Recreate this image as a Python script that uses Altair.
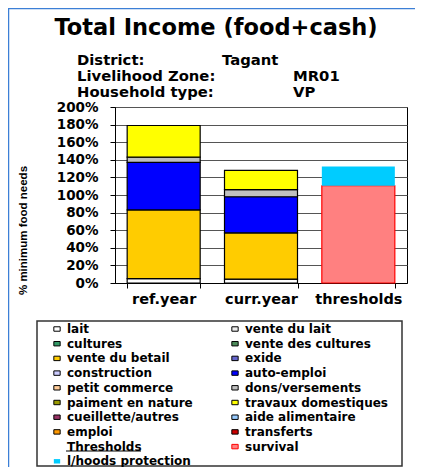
import altair as alt
import pandas as pd

# ---------------- data ----------------
categories = ["ref.year", "curr.year", "thresholds"]
income_sources = ["lait", "vente du betail", "auto-emploi", "dons/versements", "travaux domestiques"]
ref_year = [5, 78, 54, 6, 36]
curr_year = [4.5, 52.5, 41, 8, 22]
threshold_names = ["survival", "l/hoods protection"]
threshold_values = [110.5, 22]

# legend entries (listed column by column: left column, then right column)
legend_items = [
    "lait", "cultures", "vente du betail", "construction", "petit commerce",
    "paiment en nature", "cueillette/autres", "emploi", "Thresholds", "l/hoods protection",
    "vente du lait", "vente des cultures", "exide", "auto-emploi", "dons/versements",
    "travaux domestiques", "aide alimentaire", "transferts", "survival",
]
legend_fills = [
    "#FFFFFF", "#339966", "#FFCC00", "#CCCCFF", "#FFCC99",
    "#999900", "#993366", "#FF9900", "transparent", "#00CCFF",
    "#EEEEEE", "#4D8C5A", "#6666CC", "#0000FF", "#C0C0C0",
    "#FFFF00", "#99CCFF", "#CC0000", "#FF8080",
]
legend_strokes = (["#000000"] * 8 + ["transparent", "transparent"]
                  + ["#000000"] * 8 + ["#FF0000"])

title_text = "Total Income (food+cash)"
header_labels = ["District:", "Livelihood Zone:", "Household type:"]
header_values = ["Tagant", "MR01", "VP"]
y_title = "% minimum food needs"

rows = []
for i, (s, v) in enumerate(zip(income_sources, ref_year)):
    rows.append({"cat": categories[0], "source": s, "value": v, "ord": i})
for i, (s, v) in enumerate(zip(income_sources, curr_year)):
    rows.append({"cat": categories[1], "source": s, "value": v, "ord": i})
for i, (s, v) in enumerate(zip(threshold_names, threshold_values)):
    rows.append({"cat": categories[2], "source": s, "value": v, "ord": i})
df = pd.DataFrame(rows)
one = pd.DataFrame({"a": [0]})

BOLD = "DejaVu Sans"

legend_kw = dict(title=None, orient="none", legendX=-64, legendY=216,
                 columns=2, columnPadding=36, rowPadding=2.7,
                 symbolType="M-1,-0.7H1V0.7H-1Z", symbolSize=40,
                 symbolStrokeWidth=1, labelFont=BOLD,
                 labelFontWeight="bold", labelFontSize=12,
                 labelColor="black", labelOffset=4, padding=0,
                 labelLimit=0)

bars = alt.Chart(df).mark_bar(strokeWidth=1.2).encode(
    x=alt.X("cat:N", sort=categories,
            scale=alt.Scale(paddingInner=0.25, paddingOuter=0.125),
            axis=alt.Axis(title=None, labelAngle=0, tickBand="extent", grid=False,
                          labelFont=BOLD, labelFontWeight="bold", labelFontSize=14.5,
                          labelColor="black", tickColor="black", domainColor="black",
                          tickSize=5, labelPadding=4)),
    y=alt.Y("value:Q", stack="zero",
            scale=alt.Scale(domain=[0, 200], nice=False),
            axis=alt.Axis(values=list(range(0, 201, 20)), labelExpr="datum.value + '%'",
                          grid=True, gridColor="#555555", gridWidth=1,
                          labelFont=BOLD, labelFontWeight="bold", labelFontSize=13.5,
                          labelColor="black", tickColor="black", domainColor="black",
                          tickSize=5, labelPadding=12,
                          title=y_title, titleFont="Liberation Sans", titleFontWeight="bold",
                          titleFontSize=11.5, titleColor="black",
                          titleX=-92, titleY=123, titleAngle=270,
                          titleAlign="center", titleBaseline="middle")),
    color=alt.Color("source:N", scale=alt.Scale(domain=legend_items, range=legend_fills),
                    legend=alt.Legend(**legend_kw)),
    stroke=alt.Stroke("source:N", scale=alt.Scale(domain=legend_items, range=legend_strokes),
                      legend=alt.Legend(**legend_kw)),
    order=alt.Order("ord:Q"),
)

layers = [bars]

# title
layers.append(alt.Chart(one).mark_text(font=BOLD, fontWeight="bold", fontSize=22.5,
                                       align="center", baseline="alphabetic", color="black")
              .encode(x=alt.value(101), y=alt.value(-72), text=alt.value(title_text)))
# header lines
label_y = [-42, -26, -10.5]
value_x = [107, 178, 178]
for i in range(3):
    layers.append(alt.Chart(one).mark_text(font=BOLD, fontWeight="bold", fontSize=14.8,
                                           align="left", baseline="alphabetic", color="black")
                  .encode(x=alt.value(-38), y=alt.value(label_y[i]), text=alt.value(header_labels[i])))
    layers.append(alt.Chart(one).mark_text(font=BOLD, fontWeight="bold", fontSize=14.8,
                                           align="left", baseline="alphabetic", color="black")
                  .encode(x=alt.value(value_x[i]), y=alt.value(label_y[i]), text=alt.value(header_values[i])))

# outer frame (blue)
layers.append(alt.Chart(one).mark_rule(color="#3C7FD6", strokeWidth=1.5)
              .encode(x=alt.value(-107), x2=alt.value(300), y=alt.value(-98.5)))
layers.append(alt.Chart(one).mark_rule(color="#3C7FD6", strokeWidth=1.5)
              .encode(x=alt.value(-106.5), y=alt.value(-99), y2=alt.value(360)))

# legend box
layers.append(alt.Chart(one).mark_rect(fill=None, stroke="#333333", strokeWidth=1.5)
              .encode(x=alt.value(-78), x2=alt.value(287), y=alt.value(214), y2=alt.value(359)))
# underline of "Thresholds"
layers.append(alt.Chart(one).mark_rule(color="black", strokeWidth=1)
              .encode(x=alt.value(-49), x2=alt.value(26), y=alt.value(344)))

chart = alt.layer(*layers).properties(
    width=292, height=176,
    autosize=alt.AutoSizeParams(type="none"),
    padding={"left": 107, "top": 99, "right": 8, "bottom": 184},
).configure_view(stroke="black", strokeWidth=1)

chart.save("out.html", embed_options={"renderer": "svg", "actions": False})
